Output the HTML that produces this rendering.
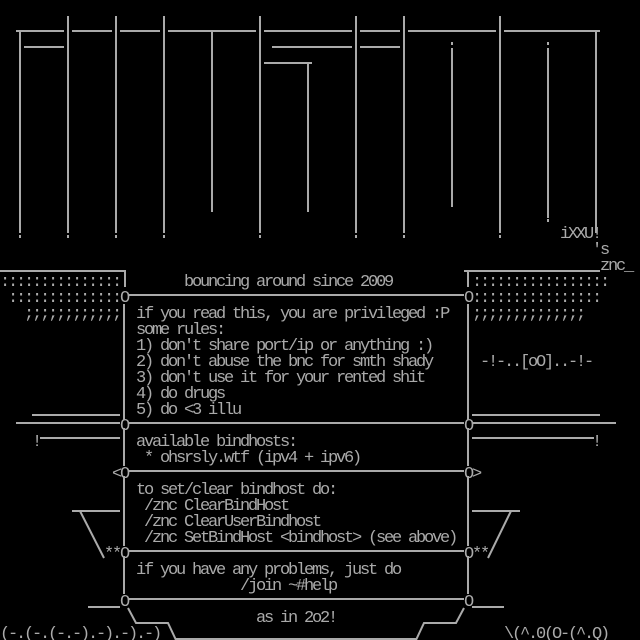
<!DOCTYPE html>
<html><head><meta charset="utf-8"><style>
html,body{margin:0;padding:0;background:#000;width:640px;height:640px;overflow:hidden}
svg{display:block}
text{font-family:"Liberation Mono",monospace;font-size:17px;letter-spacing:-2.2px;fill:#aaa;white-space:pre}
</style></head><body>
<svg width="640" height="640" viewBox="0 0 640 640" xmlns="http://www.w3.org/2000/svg">
<rect width="640" height="640" fill="#000"/>
<g stroke="#aaa" stroke-width="2" fill="none">
<path d="M16 31H64M72 31H112M120 31H160M168 31H256M264 31H352M360 31H400M408 31H496M504 31H600"/>
<path d="M24 47H64M272 47H352M360 47H400M264 63H312"/>
<path d="M20 31V233M68 16V233M116 16V233M164 16V233M212 31V212M260 16V233M308 63V212M356 16V233M404 16V233M452 48V207M500 16V233M548 48V218M596 31V233"/>
<path d="M452 42V45M548 42V45M548 219V222M20 235V238M68 235V238M116 235V238M164 235V238M260 235V238M356 235V238M404 235V238M500 235V238"/>
<path d="M0 271H125V287M464 271H600M468 271V287"/>
<path d="M128 295H464"/>
<path d="M124 304V420M468 304V420"/>
<path d="M32 415H120M472 415H600"/>
<path d="M16 423H120M128 423H464M472 423H616"/>
<path d="M124 428V466M468 428V466M40 438H120M472 438H594"/>
<path d="M128 471H464"/>
<path d="M124 476V546M468 476V546"/>
<path d="M72 511H120M80 511L104 558M472 511H520M511 511L488 558"/>
<path d="M128 551H464"/>
<path d="M124 556V594M468 556V594"/>
<path d="M128 599H464M88 607H120M472 607H504"/>
<path d="M128 608L136 623H168L176 640M464 608L456 623H424L416 640M176 639H416"/>
</g>
<text x="560" y="238">iXXU!</text>
<text x="592" y="254">'s</text>
<text x="600" y="270">znc_</text>
<text x="184" y="286">bouncing around since 2009</text>
<text x="0" y="286">:::::::::::::::</text>
<text x="8" y="302">::::::::::::::O</text>
<text x="24" y="318">;;;;;;;;;;;;</text>
<text x="472" y="286">:::::::::::::::::</text>
<text x="464" y="302">O::::::::::::::::</text>
<text x="472" y="318">;;;;;;;;;;;;;;</text>
<text x="136" y="318">if you read this, you are privileged :P</text>
<text x="136" y="334">some rules:</text>
<text x="136" y="350">1) don't share port/ip or anything :)</text>
<text x="136" y="366">2) don't abuse the bnc for smth shady</text>
<text x="136" y="382">3) don't use it for your rented shit</text>
<text x="136" y="398">4) do drugs</text>
<text x="136" y="414">5) do &lt;3 illu</text>
<text x="480" y="366">-!-..[oO]..-!-</text>
<text x="120" y="430">O</text>
<text x="464" y="430">O</text>
<text x="32" y="446">!</text>
<text x="592" y="446">!</text>
<text x="136" y="446">available bindhosts:</text>
<text x="144" y="462">* ohsrsly.wtf (ipv4 + ipv6)</text>
<text x="112" y="478">&lt;O</text>
<text x="464" y="478">O&gt;</text>
<text x="136" y="494">to set/clear bindhost do:</text>
<text x="144" y="510">/znc ClearBindHost</text>
<text x="144" y="526">/znc ClearUserBindhost</text>
<text x="144" y="542">/znc SetBindHost &lt;bindhost&gt; (see above)</text>
<text x="104" y="558">**O</text>
<text x="464" y="558">O**</text>
<text x="136" y="574">if you have any problems, just do</text>
<text x="240" y="590">/join ~#help</text>
<text x="120" y="606">O</text>
<text x="464" y="606">O</text>
<text x="256" y="622">as in 2o2!</text>
<text x="0" y="638">(-.(-.(-.-).-).-).-)</text>
<text x="504" y="638">\(^.0(O-(^.Q)</text>
</svg>
</body></html>
